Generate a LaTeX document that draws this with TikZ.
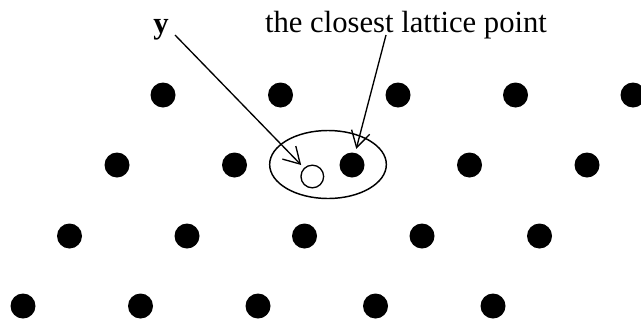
\documentclass[tikz,border=0pt]{standalone}
\usepackage{fontspec}
\setmainfont{Liberation Serif}
\usetikzlibrary{shapes.geometric, arrows.meta}

\tikzset{
	latpt/.style={shape=circle, fill=black, inner sep=0pt, minimum size=18.75pt},
	ptarrow/.style={line width=1pt, -{Straight Barb[length=12pt, width=14pt]}, shorten >=3pt},
	labeltxt/.style={anchor=base, inner sep=0pt, font=\fontsize{23}{27}\selectfont}
}

\begin{document}
\begin{tikzpicture}[x=0.75pt, y=-0.75pt]
		\useasboundingbox (0, 0) rectangle (641, 325);
		% lattice, row 1
		\node[latpt] (p11) at (163, 95){};
		\node[latpt] (p12) at (280.5, 95){};
		\node[latpt] (p13) at (398, 95){};
		\node[latpt] (p14) at (515.5, 95){};
		\node[latpt] (p15) at (633, 95){};
		% row 2
		\node[latpt] (p21) at (117, 165){};
		\node[latpt] (p22) at (234.5, 165){};
		\node[latpt] (p23) at (352, 165){};
		\node[latpt] (p24) at (469.5, 165){};
		\node[latpt] (p25) at (587, 165){};
		% row 3
		\node[latpt] (p31) at (69.5, 236){};
		\node[latpt] (p32) at (187, 236){};
		\node[latpt] (p33) at (304.5, 236){};
		\node[latpt] (p34) at (422, 236){};
		\node[latpt] (p35) at (539.5, 236){};
		% row 4
		\node[latpt] (p41) at (23, 306){};
		\node[latpt] (p42) at (140.5, 306){};
		\node[latpt] (p43) at (258, 306){};
		\node[latpt] (p44) at (375.5, 306){};
		\node[latpt] (p45) at (493, 306){};
		% received point and its region
		\node[shape=circle, draw, line width=1pt, fill=white, inner sep=0pt, minimum size=17pt] (ypt) at (312.3, 176.5){};
		\node[shape=ellipse, draw, line width=1.1pt, inner sep=0pt, minimum width=87.5pt, minimum height=51pt] (region) at (328, 164.5){};
		% labels
		\node[labeltxt] (ylab) at (161, 33) {\textbf{y}};
		\node[labeltxt] (cplab) at (406, 32) {the closest lattice point};
		\coordinate (ytail) at (175, 35);
		\coordinate (cptail) at (386, 35);
		\draw[ptarrow] (ytail) -- (ypt);
		\draw[ptarrow] (cptail) -- (p23);
	\end{tikzpicture}
\end{document}
